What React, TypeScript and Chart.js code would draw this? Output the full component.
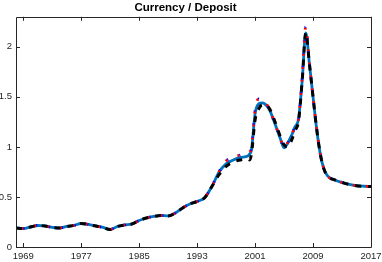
import React, { useEffect, useRef } from 'react';
import { Chart, registerables } from 'chart.js';

Chart.register(...registerables);

const chartTitle = 'Currency / Deposit';

const years = [
  1968, 1969, 1970, 1971, 1972, 1973, 1974, 1975, 1976, 1977, 1978, 1979, 1980, 1981, 1982, 1983,
  1984, 1985, 1986, 1987, 1988, 1989, 1990, 1991, 1992, 1993, 1994, 1995, 1996, 1997, 1998, 1999,
  2000, 2000.25, 2000.5, 2001, 2001.5, 2002, 2002.5, 2003, 2003.5, 2004, 2004.5, 2005, 2005.5,
  2006, 2006.5, 2007, 2007.5, 2008, 2008.5, 2009, 2009.5, 2010, 2010.5, 2011, 2012, 2013, 2014,
  2015, 2016, 2017,
];

const seriesBlue = [
  0.19, 0.185, 0.2, 0.215, 0.21, 0.195, 0.19, 0.205, 0.215, 0.235, 0.225, 0.21, 0.195, 0.175, 0.205, 0.22,
  0.23, 0.265, 0.29, 0.305, 0.315, 0.31, 0.34, 0.39, 0.43, 0.455, 0.49, 0.6, 0.745, 0.83, 0.87, 0.895,
  0.91, 0.93, 0.97, 1.33, 1.43, 1.44, 1.42, 1.37, 1.28, 1.18, 1.08, 0.99, 1.04,
  1.11, 1.2, 1.28, 1.66, 2.14, 1.83, 1.5, 1.18, 0.93, 0.78, 0.71, 0.67, 0.645, 0.625,
  0.612, 0.607, 0.605,
];

const seriesRed = [
  0.19, 0.185, 0.2, 0.215, 0.21, 0.195, 0.19, 0.205, 0.215, 0.235, 0.225, 0.21, 0.195, 0.175, 0.205, 0.22,
  0.23, 0.265, 0.29, 0.305, 0.315, 0.31, 0.34, 0.39, 0.43, 0.455, 0.49, 0.6, 0.75, 0.86, 0.9, 0.92,
  0.94, 0.95, 0.99, 1.37, 1.48, 1.47, 1.44, 1.37, 1.28, 1.18, 1.08, 0.99, 1.04,
  1.11, 1.2, 1.28, 1.7, 2.2, 1.83, 1.5, 1.18, 0.93, 0.78, 0.71, 0.67, 0.645, 0.625,
  0.612, 0.607, 0.605,
];

const seriesBlack = [
  0.19, 0.185, 0.2, 0.215, 0.21, 0.195, 0.19, 0.205, 0.215, 0.235, 0.225, 0.21, 0.195, 0.175, 0.205, 0.22,
  0.23, 0.265, 0.29, 0.305, 0.315, 0.31, 0.34, 0.39, 0.43, 0.455, 0.49, 0.6, 0.72, 0.805, 0.85, 0.87,
  0.88, 0.87, 0.93, 1.27, 1.38, 1.42, 1.42, 1.38, 1.3, 1.2, 1.1, 1.02, 1.0,
  1.06, 1.16, 1.26, 1.66, 2.14, 1.83, 1.5, 1.18, 0.93, 0.78, 0.71, 0.67, 0.645, 0.625,
  0.612, 0.607, 0.605,
];

const xTicks = [1969, 1977, 1985, 1993, 2001, 2009, 2017];
const yTicks = [0, 0.5, 1, 1.5, 2];

const AXIS_COLOR = '#262626';
const FONT = 'Liberation Sans, Arial, Helvetica, sans-serif';

const boxPlugin = {
  id: 'matlabBox',
  afterDatasetsDraw(chart: any) {
    const { ctx, chartArea } = chart;
    const { left, right, top, bottom } = chartArea;
    const xs = chart.scales.x;
    const ys = chart.scales.y;
    const tl = 4;
    ctx.save();
    ctx.setLineDash([]);
    ctx.strokeStyle = AXIS_COLOR;
    ctx.lineWidth = 1;
    ctx.beginPath();
    ctx.rect(Math.round(left) + 0.5, Math.round(top) + 0.5, Math.round(right - left), Math.round(bottom - top));
    for (const v of xTicks) {
      const px = Math.round(xs.getPixelForValue(v)) + 0.5;
      ctx.moveTo(px, bottom);
      ctx.lineTo(px, bottom - tl);
      ctx.moveTo(px, top);
      ctx.lineTo(px, top + tl);
    }
    for (const v of yTicks) {
      const py = Math.round(ys.getPixelForValue(v)) + 0.5;
      ctx.moveTo(left, py);
      ctx.lineTo(left + tl, py);
      ctx.moveTo(right, py);
      ctx.lineTo(right - tl, py);
    }
    ctx.stroke();
    ctx.restore();
  },
};

export default function App() {
  const canvasRef = useRef<HTMLCanvasElement | null>(null);

  useEffect(() => {
    const canvas = canvasRef.current;
    if (!canvas) return;
    const mk = (arr: number[]) => years.map((x, i) => ({ x, y: arr[i] }));
    const chart = new Chart(canvas, {
      type: 'line',
      data: {
        datasets: [
          {
            label: 'black',
            data: mk(seriesBlack),
            borderColor: '#000000',
            borderWidth: 3,
            borderDash: [6, 7],
            pointRadius: 0,
            cubicInterpolationMode: 'monotone',
            order: 0,
          },
          {
            label: 'darkblue',
            data: mk(seriesRed),
            borderColor: '#0000FF',
            borderWidth: 2.8,
            borderDash: [1, 12],
            borderDashOffset: -7.5,
            pointRadius: 0,
            cubicInterpolationMode: 'monotone',
            order: 1,
          },
          {
            label: 'red',
            data: mk(seriesRed),
            borderColor: '#FF0000',
            borderWidth: 2.8,
            borderDash: [2, 11],
            borderDashOffset: -5.5,
            pointRadius: 0,
            cubicInterpolationMode: 'monotone',
            order: 2,
          },
          {
            label: 'blue',
            data: mk(seriesBlue),
            borderColor: '#0072BD',
            borderWidth: 2.8,
            pointRadius: 0,
            cubicInterpolationMode: 'monotone',
            order: 3,
          },
        ],
      },
      options: {
        animation: false,
        responsive: false,
        maintainAspectRatio: false,
        layout: { padding: { left: 0, right: 11, top: 0, bottom: 0 } },
        plugins: {
          legend: { display: false },
          tooltip: { enabled: false },
          title: {
            display: true,
            text: chartTitle,
            color: '#000000',
            font: { family: FONT, size: 11.5, weight: 'bold' },
            padding: { top: 1, bottom: 2 },
          },
        },
        scales: {
          x: {
            type: 'linear',
            min: 1968,
            max: 2017,
            grid: { display: false, drawTicks: false },
            border: { display: false },
            afterBuildTicks: (s: any) => {
              s.ticks = xTicks.map((v) => ({ value: v }));
            },
            afterFit: (s: any) => {
              s.height = 15;
              s.paddingLeft = 0;
              s.paddingRight = 0;
            },
            ticks: {
              autoSkip: false,
              maxRotation: 0,
              padding: 4,
              color: AXIS_COLOR,
              font: { family: FONT, size: 9.5 },
              callback: (v: any) => String(v),
            },
          },
          y: {
            type: 'linear',
            min: 0,
            max: 2.3,
            grid: { display: false, drawTicks: false },
            border: { display: false },
            afterBuildTicks: (s: any) => {
              s.ticks = yTicks.map((v) => ({ value: v }));
            },
            afterFit: (s: any) => {
              s.width = 16;
              s.paddingTop = 0;
              s.paddingBottom = 0;
            },
            ticks: {
              autoSkip: false,
              padding: 4,
              color: AXIS_COLOR,
              font: { family: FONT, size: 9.5 },
              callback: (v: any) => String(v),
            },
          },
        },
      },
      plugins: [boxPlugin],
    } as any);
    return () => chart.destroy();
  }, []);

  return (
    <div style={{ position: 'fixed', left: 0, top: 0, width: 382, height: 262, background: '#fff' }}>
      <canvas ref={canvasRef} width={382} height={262} style={{ display: 'block' }} />
    </div>
  );
}
